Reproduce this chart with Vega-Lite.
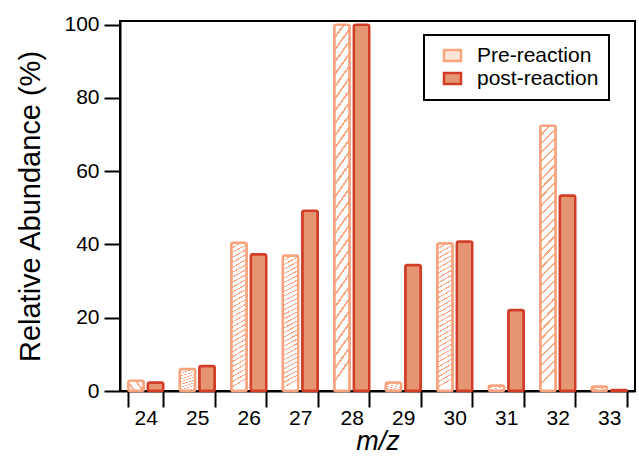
{
  "$schema": "https://vega.github.io/schema/vega-lite/v6.json",
  "width": 515,
  "height": 370,
  "autosize": {"type": "none"},
  "padding": {"left": 120, "top": 21, "right": 4, "bottom": 71},
  "config": {
    "font": "Liberation Sans",
    "view": {"stroke": "black", "strokeWidth": 2},
    "axis": {
      "domainColor": "black", "domainWidth": 2,
      "tickColor": "black", "tickWidth": 2, "tickSize": 16,
      "labelColor": "black", "labelFontSize": 21, "labelFont": "Liberation Sans",
      "titleColor": "black", "titleFontWeight": "normal", "titleFont": "Liberation Sans",
      "grid": false
    }
  },
  "data": {
    "values": [
      {"mz": "24", "series": "Pre-reaction", "value": 2.8},
      {"mz": "24", "series": "post-reaction", "value": 2.3},
      {"mz": "25", "series": "Pre-reaction", "value": 6.0},
      {"mz": "25", "series": "post-reaction", "value": 6.8},
      {"mz": "26", "series": "Pre-reaction", "value": 40.5},
      {"mz": "26", "series": "post-reaction", "value": 37.3},
      {"mz": "27", "series": "Pre-reaction", "value": 37.0},
      {"mz": "27", "series": "post-reaction", "value": 49.2},
      {"mz": "28", "series": "Pre-reaction", "value": 100},
      {"mz": "28", "series": "post-reaction", "value": 100},
      {"mz": "29", "series": "Pre-reaction", "value": 2.3},
      {"mz": "29", "series": "post-reaction", "value": 34.4},
      {"mz": "30", "series": "Pre-reaction", "value": 40.3},
      {"mz": "30", "series": "post-reaction", "value": 40.8},
      {"mz": "31", "series": "Pre-reaction", "value": 1.5},
      {"mz": "31", "series": "post-reaction", "value": 22.1},
      {"mz": "32", "series": "Pre-reaction", "value": 72.4},
      {"mz": "32", "series": "post-reaction", "value": 53.4},
      {"mz": "33", "series": "Pre-reaction", "value": 1.2},
      {"mz": "33", "series": "post-reaction", "value": 0.3}
    ]
  },
  "encoding": {
    "x": {
      "field": "mz", "type": "ordinal",
      "scale": {"paddingInner": 0.32, "paddingOuter": 0.16},
      "axis": {"labelAngle": 0, "title": "m/z", "titleFontStyle": "italic", "titleFontSize": 27, "tickBand": "extent", "labelPadding": 0, "titlePadding": 0}
    },
    "xOffset": {
      "field": "series", "type": "nominal",
      "scale": {"domain": ["Pre-reaction", "post-reaction"], "paddingInner": 0.21, "paddingOuter": 0}
    },
    "y": {
      "field": "value", "type": "quantitative",
      "scale": {"domain": [0, 101], "nice": false},
      "axis": {"values": [0, 20, 40, 60, 80, 100], "title": "Relative Abundance (%)", "titleFontSize": 29, "titlePadding": 18, "labelPadding": 5}
    },
    "stroke": {
      "field": "series", "type": "nominal",
      "scale": {"domain": ["Pre-reaction", "post-reaction"], "range": ["#f9a47e", "#d13d27"]},
      "legend": {
        "title": null, "orient": "none", "legendX": 304, "legendY": 14,
        "labelFontSize": 21, "labelColor": "black", "labelFont": "Liberation Sans",
        "strokeColor": "black", "padding": 10,
        "symbolType": "M-1,-0.65H1V0.65H-1Z", "symbolSize": 289, "symbolStrokeWidth": 2.5,
        "labelOffset": 14, "rowPadding": 0, "symbolOffset": 8,
        "encode": {"legend": {"update": {"strokeWidth": {"value": 2}}}}
      }
    }
  },
  "layer": [
    {
      "transform": [{"filter": "datum.series === 'Pre-reaction'"}],
      "mark": {
        "type": "bar", "strokeWidth": 2.5, "cornerRadius": 2,
        "fill": {
          "gradient": "linear", "x1": 0.06, "y1": 1, "x2": 0, "y2": 0,
          "stops": [
            {"offset": 0, "color": "#ffffff"}, {"offset": 0.025, "color": "#ffffff"}, {"offset": 0.025, "color": "#f9a882"}, {"offset": 0.0333, "color": "#f9a882"},
            {"offset": 0.0333, "color": "#ffffff"}, {"offset": 0.0583, "color": "#ffffff"}, {"offset": 0.0583, "color": "#f9a882"}, {"offset": 0.0667, "color": "#f9a882"},
            {"offset": 0.0667, "color": "#ffffff"}, {"offset": 0.0917, "color": "#ffffff"}, {"offset": 0.0917, "color": "#f9a882"}, {"offset": 0.1, "color": "#f9a882"},
            {"offset": 0.1, "color": "#ffffff"}, {"offset": 0.125, "color": "#ffffff"}, {"offset": 0.125, "color": "#f9a882"}, {"offset": 0.1333, "color": "#f9a882"},
            {"offset": 0.1333, "color": "#ffffff"}, {"offset": 0.1583, "color": "#ffffff"}, {"offset": 0.1583, "color": "#f9a882"}, {"offset": 0.1667, "color": "#f9a882"},
            {"offset": 0.1667, "color": "#ffffff"}, {"offset": 0.1917, "color": "#ffffff"}, {"offset": 0.1917, "color": "#f9a882"}, {"offset": 0.2, "color": "#f9a882"},
            {"offset": 0.2, "color": "#ffffff"}, {"offset": 0.225, "color": "#ffffff"}, {"offset": 0.225, "color": "#f9a882"}, {"offset": 0.2333, "color": "#f9a882"},
            {"offset": 0.2333, "color": "#ffffff"}, {"offset": 0.2583, "color": "#ffffff"}, {"offset": 0.2583, "color": "#f9a882"}, {"offset": 0.2667, "color": "#f9a882"},
            {"offset": 0.2667, "color": "#ffffff"}, {"offset": 0.2917, "color": "#ffffff"}, {"offset": 0.2917, "color": "#f9a882"}, {"offset": 0.3, "color": "#f9a882"},
            {"offset": 0.3, "color": "#ffffff"}, {"offset": 0.325, "color": "#ffffff"}, {"offset": 0.325, "color": "#f9a882"}, {"offset": 0.3333, "color": "#f9a882"},
            {"offset": 0.3333, "color": "#ffffff"}, {"offset": 0.3583, "color": "#ffffff"}, {"offset": 0.3583, "color": "#f9a882"}, {"offset": 0.3667, "color": "#f9a882"},
            {"offset": 0.3667, "color": "#ffffff"}, {"offset": 0.3917, "color": "#ffffff"}, {"offset": 0.3917, "color": "#f9a882"}, {"offset": 0.4, "color": "#f9a882"},
            {"offset": 0.4, "color": "#ffffff"}, {"offset": 0.425, "color": "#ffffff"}, {"offset": 0.425, "color": "#f9a882"}, {"offset": 0.4333, "color": "#f9a882"},
            {"offset": 0.4333, "color": "#ffffff"}, {"offset": 0.4583, "color": "#ffffff"}, {"offset": 0.4583, "color": "#f9a882"}, {"offset": 0.4667, "color": "#f9a882"},
            {"offset": 0.4667, "color": "#ffffff"}, {"offset": 0.4917, "color": "#ffffff"}, {"offset": 0.4917, "color": "#f9a882"}, {"offset": 0.5, "color": "#f9a882"},
            {"offset": 0.5, "color": "#ffffff"}, {"offset": 0.525, "color": "#ffffff"}, {"offset": 0.525, "color": "#f9a882"}, {"offset": 0.5333, "color": "#f9a882"},
            {"offset": 0.5333, "color": "#ffffff"}, {"offset": 0.5583, "color": "#ffffff"}, {"offset": 0.5583, "color": "#f9a882"}, {"offset": 0.5667, "color": "#f9a882"},
            {"offset": 0.5667, "color": "#ffffff"}, {"offset": 0.5917, "color": "#ffffff"}, {"offset": 0.5917, "color": "#f9a882"}, {"offset": 0.6, "color": "#f9a882"},
            {"offset": 0.6, "color": "#ffffff"}, {"offset": 0.625, "color": "#ffffff"}, {"offset": 0.625, "color": "#f9a882"}, {"offset": 0.6333, "color": "#f9a882"},
            {"offset": 0.6333, "color": "#ffffff"}, {"offset": 0.6583, "color": "#ffffff"}, {"offset": 0.6583, "color": "#f9a882"}, {"offset": 0.6667, "color": "#f9a882"},
            {"offset": 0.6667, "color": "#ffffff"}, {"offset": 0.6917, "color": "#ffffff"}, {"offset": 0.6917, "color": "#f9a882"}, {"offset": 0.7, "color": "#f9a882"},
            {"offset": 0.7, "color": "#ffffff"}, {"offset": 0.725, "color": "#ffffff"}, {"offset": 0.725, "color": "#f9a882"}, {"offset": 0.7333, "color": "#f9a882"},
            {"offset": 0.7333, "color": "#ffffff"}, {"offset": 0.7583, "color": "#ffffff"}, {"offset": 0.7583, "color": "#f9a882"}, {"offset": 0.7667, "color": "#f9a882"},
            {"offset": 0.7667, "color": "#ffffff"}, {"offset": 0.7917, "color": "#ffffff"}, {"offset": 0.7917, "color": "#f9a882"}, {"offset": 0.8, "color": "#f9a882"},
            {"offset": 0.8, "color": "#ffffff"}, {"offset": 0.825, "color": "#ffffff"}, {"offset": 0.825, "color": "#f9a882"}, {"offset": 0.8333, "color": "#f9a882"},
            {"offset": 0.8333, "color": "#ffffff"}, {"offset": 0.8583, "color": "#ffffff"}, {"offset": 0.8583, "color": "#f9a882"}, {"offset": 0.8667, "color": "#f9a882"},
            {"offset": 0.8667, "color": "#ffffff"}, {"offset": 0.8917, "color": "#ffffff"}, {"offset": 0.8917, "color": "#f9a882"}, {"offset": 0.9, "color": "#f9a882"},
            {"offset": 0.9, "color": "#ffffff"}, {"offset": 0.925, "color": "#ffffff"}, {"offset": 0.925, "color": "#f9a882"}, {"offset": 0.9333, "color": "#f9a882"},
            {"offset": 0.9333, "color": "#ffffff"}, {"offset": 0.9583, "color": "#ffffff"}, {"offset": 0.9583, "color": "#f9a882"}, {"offset": 0.9667, "color": "#f9a882"},
            {"offset": 0.9667, "color": "#ffffff"}, {"offset": 0.9917, "color": "#ffffff"}, {"offset": 0.9917, "color": "#f9a882"}, {"offset": 1, "color": "#f9a882"}
          ]
        }
      }
    },
    {
      "transform": [{"filter": "datum.series === 'post-reaction'"}],
      "mark": {"type": "bar", "strokeWidth": 2.5, "cornerRadius": 2},
      "encoding": {
        "fill": {
          "field": "series", "type": "nominal",
          "scale": {"domain": ["Pre-reaction", "post-reaction"], "range": ["#fde4d8", "#e59572"]},
          "legend": {
            "title": null, "orient": "none", "legendX": 304, "legendY": 14,
            "labelFontSize": 21, "labelColor": "black", "labelFont": "Liberation Sans",
            "strokeColor": "black", "padding": 10,
            "symbolType": "M-1,-0.65H1V0.65H-1Z", "symbolSize": 289, "symbolStrokeWidth": 2.5,
            "labelOffset": 14, "rowPadding": 0, "symbolOffset": 8,
            "encode": {"legend": {"update": {"strokeWidth": {"value": 2}}}}
          }
        }
      }
    }
  ]
}
